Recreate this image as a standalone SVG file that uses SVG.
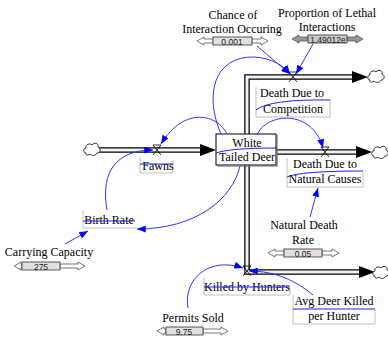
<svg xmlns="http://www.w3.org/2000/svg" width="388" height="337" viewBox="0 0 388 337">
<style>
.lbl{font-family:'Liberation Serif','Times New Roman',serif;font-size:12px;fill:#000;text-anchor:middle}
.val{font-family:'Liberation Sans',Arial,sans-serif;font-size:8.5px;fill:#222;text-anchor:middle}
.pipeO{fill:none;stroke:#000;stroke-width:5.5;stroke-linejoin:miter}
.pipeI{fill:none;stroke:#f4f4f4;stroke-width:3;stroke-linejoin:miter}
.con{fill:none;stroke:#3333ff;stroke-width:1;marker-end:url(#ah)}
.strike{fill:none;stroke:#2020ee;stroke-width:1}
.box{fill:none;stroke:#c0c0c0;stroke-width:1}
.valve{fill:none;stroke:#000;stroke-width:0.8}
.cloud{fill:#fff;stroke:#000;stroke-width:0.8}
.arr{fill:#000}
.sa{fill:#fff;stroke:#555;stroke-width:0.8}
.sb{fill:#e0e0e0;stroke:#333;stroke-width:0.8}
.sag{fill:#999;stroke:#555;stroke-width:0.8}
.sbg{fill:#c8c8c8;stroke:#333;stroke-width:0.8}
</style>
<defs>
<marker id="ah" viewBox="0 0 10 8" refX="10" refY="4" markerWidth="9" markerHeight="7" markerUnits="userSpaceOnUse" orient="auto">
<path d="M0 0 L10 4 L0 8 Z" fill="#0000ff"/>
</marker>
<path id="cl" d="M-6 4 C-9 4 -9 -1 -6 -1 C-7 -5 -2 -6 0 -4 C2 -7 7 -6 6 -2 C9 -1 9 4 5 4 C4 7 -1 7 -2 5 C-4 7 -7 6 -6 4 Z"/>
<path id="vx" d="M-4 -5 L4 5 M4 -5 L-4 5 M-4 -5 H4"/>
</defs>

<g id="pipes">
<path class="pipeO" d="M352 77 H247 V272 H360"/>
<path class="pipeI" d="M352 77 H247 V272 H360"/>
<path class="pipeO" d="M99 150 H201"/>
<path class="pipeI" d="M99 150 H201"/>
<path class="pipeO" d="M277 152 H357"/>
<path class="pipeI" d="M277 152 H357"/>
<path class="arr" d="M352 71 L368 77 L352 83 Z"/>
<path class="arr" d="M200 144 L216 150 L200 156 Z"/>
<path class="arr" d="M356 146 L372 152 L356 158 Z"/>
<path class="arr" d="M359 266 L375 272 L359 278 Z"/>
<use href="#cl" class="cloud" x="92" y="149"/>
<use href="#cl" class="cloud" x="376" y="76"/>
<use href="#cl" class="cloud" x="380" y="152"/>
<use href="#cl" class="cloud" x="381" y="272"/>
<use href="#vx" class="valve" x="293" y="77"/>
<use href="#vx" class="valve" x="157" y="150"/>
<use href="#vx" class="valve" x="325" y="152"/>
<use href="#vx" class="valve" x="247" y="271"/>
</g>

<g id="stock">
<rect x="216" y="134" width="60" height="31" fill="#fff" stroke="#000" stroke-width="1"/>
<path d="M217 166 H277 V135" fill="none" stroke="#666" stroke-width="1.2"/>
<text class="lbl" font-family="Liberation Serif, serif" x="247" y="147">White</text>
<text class="lbl" font-family="Liberation Serif, serif" x="247" y="161">Tailed Deer</text>
</g>

<g id="death-competition">
<path class="box" d="M256 87 V117 H330 V99"/>
<text class="lbl" font-family="Liberation Serif, serif" x="292" y="97">Death Due to</text>
<text class="lbl" font-family="Liberation Serif, serif" x="293" y="113">Competition</text>
</g>

<g id="fawns">
<path class="box" d="M140 157 V173 H173 V160"/>
<text class="lbl" font-family="Liberation Serif, serif" x="158" y="170">Fawns</text>
</g>

<g id="death-natural">
<path class="box" d="M287 158 V187 H363 V172"/>
<text class="lbl" font-family="Liberation Serif, serif" x="325" y="168">Death Due to</text>
<text class="lbl" font-family="Liberation Serif, serif" x="325" y="183">Natural Causes</text>
</g>

<g id="birth-rate">
<path class="box" d="M83 210 V228 H137"/>
<text class="lbl" font-family="Liberation Serif, serif" x="109" y="224">Birth Rate</text>
</g>

<g id="killed-hunters">
<path class="box" d="M204 278 V295 H290 V288"/>
<text class="lbl" font-family="Liberation Serif, serif" x="247" y="291">Killed by Hunters</text>
</g>

<g id="avg-deer">
<path class="box" d="M293 295 V324 H375 V309"/>
<text class="lbl" font-family="Liberation Serif, serif" x="334" y="305">Avg Deer Killed</text>
<text class="lbl" font-family="Liberation Serif, serif" x="334" y="320">per Hunter</text>
</g>

<g id="chance">
<text class="lbl" font-family="Liberation Serif, serif" x="233" y="19">Chance of</text>
<text class="lbl" font-family="Liberation Serif, serif" x="232" y="33">Interaction Occuring</text>
<path class="sa" d="M197 41 L204 37 V39 H213 V43 H204 V45 Z"/>
<path class="sa" d="M268 41 L261 37 V39 H252 V43 H261 V45 Z"/>
<rect class="sb" x="213" y="37" width="39" height="8"/>
<text class="val" x="232" y="44.5">0.001</text>
</g>

<g id="proportion">
<text class="lbl" font-family="Liberation Serif, serif" x="327" y="17">Proportion of Lethal</text>
<text class="lbl" font-family="Liberation Serif, serif" x="327" y="31">Interactions</text>
<path class="sag" d="M292 39 L299 35 V37 H308 V41 H299 V43 Z"/>
<path class="sag" d="M363 39 L356 35 V37 H347 V41 H356 V43 Z"/>
<rect class="sbg" x="308" y="35" width="39" height="8"/>
<text class="val" x="328" y="42.5">1.49012e</text>
</g>

<g id="carrying">
<text class="lbl" font-family="Liberation Serif, serif" x="49" y="256">Carrying Capacity</text>
<path class="sa" d="M14 266 L21 262 V264 H22 V268 H21 V270 Z"/>
<path class="sa" d="M85 266 L78 262 V264 H60 V268 H78 V270 Z"/>
<rect class="sb" x="22" y="262" width="38" height="8"/>
<text class="val" x="41" y="269.5">275</text>
</g>

<g id="natural-rate">
<text class="lbl" font-family="Liberation Serif, serif" x="304" y="229">Natural Death</text>
<text class="lbl" font-family="Liberation Serif, serif" x="303" y="244">Rate</text>
<path class="sa" d="M268 253 L275 249 V251 H284 V255 H275 V257 Z"/>
<path class="sa" d="M339 253 L332 249 V251 H322 V255 H332 V257 Z"/>
<rect class="sb" x="284" y="249" width="38" height="8"/>
<text class="val" x="303" y="256.5">0.05</text>
</g>

<g id="permits">
<text class="lbl" font-family="Liberation Serif, serif" x="193" y="322">Permits Sold</text>
<path class="sa" d="M157 331 L164 327 V329 H166 V333 H164 V335 Z"/>
<path class="sa" d="M228 331 L221 327 V329 H203 V333 H221 V335 Z"/>
<rect class="sb" x="166" y="327" width="37" height="8"/>
<text class="val" x="184" y="334.5">9.75</text>
</g>

<g id="connectors">
<path class="con" d="M257 46 L290 74"/>
<path class="con" d="M313 44 L296 74"/>
<path class="con" d="M221 134 C204 95 214 56 254 57 C272 58 284 66 290 74"/>
<path class="con" d="M227 134 C218 115 185 105 161 144"/>
<path class="con" d="M257 135 C266 113 312 108 323 148"/>
<path class="con" d="M240 166 C232 200 195 229 137 229"/>
<path class="con" d="M107 210 C100 170 118 150 153 150"/>
<path class="con" d="M65 244 L88 231"/>
<path class="con" d="M310 217 L318 188"/>
<path class="con" d="M188 308 C183 280 208 256 243 268"/>
<path class="con" d="M313 295 C296 281 276 271 249 271"/>
<path class="strike" d="M256 110 Q270 99 330 100"/>
<path class="strike" d="M216 153 Q230 148 277 148"/>
<path class="strike" d="M140 164 H173"/>
<path class="strike" d="M287 177 Q300 171 363 171"/>
<path class="strike" d="M83 221 H135"/>
<path class="strike" d="M204 287 H290"/>
<path class="strike" d="M293 309 H375"/>
</g>
</svg>
